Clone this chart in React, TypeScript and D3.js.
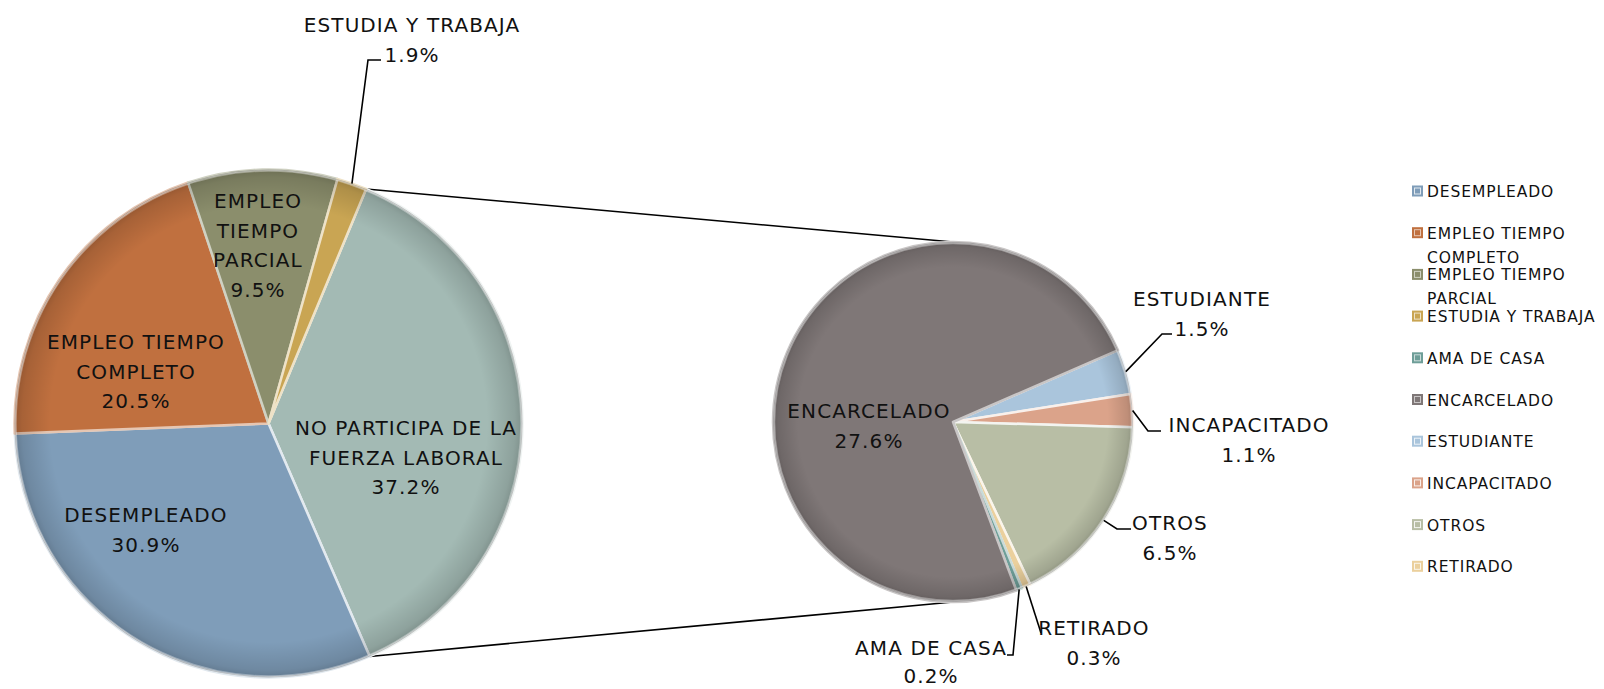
import React from "react";
import * as d3 from "d3";

// ---------- data ----------
const mainCategories = [
  "NO PARTICIPA DE LA FUERZA LABORAL",
  "DESEMPLEADO",
  "EMPLEO TIEMPO COMPLETO",
  "EMPLEO TIEMPO PARCIAL",
  "ESTUDIA Y TRABAJA",
];
const mainValues = [37.2, 30.9, 20.5, 9.5, 1.9];

const subCategories = [
  "ESTUDIANTE",
  "INCAPACITADO",
  "OTROS",
  "RETIRADO",
  "AMA DE CASA",
  "ENCARCELADO",
];
const subValues = [1.5, 1.1, 6.5, 0.3, 0.2, 27.6];

const legendCategories = [
  "DESEMPLEADO",
  "EMPLEO TIEMPO COMPLETO",
  "EMPLEO TIEMPO PARCIAL",
  "ESTUDIA Y TRABAJA",
  "AMA DE CASA",
  "ENCARCELADO",
  "ESTUDIANTE",
  "INCAPACITADO",
  "OTROS",
  "RETIRADO",
];

const colors: Record<string, string> = {
  "NO PARTICIPA DE LA FUERZA LABORAL": "#a3bab4",
  DESEMPLEADO: "#7f9db9",
  "EMPLEO TIEMPO COMPLETO": "#c0703f",
  "EMPLEO TIEMPO PARCIAL": "#8b8e6c",
  "ESTUDIA Y TRABAJA": "#c9a553",
  ENCARCELADO: "#7f7777",
  ESTUDIANTE: "#aac5dc",
  INCAPACITADO: "#dba38a",
  OTROS: "#b8bea5",
  RETIRADO: "#ebd09d",
  "AMA DE CASA": "#6e9e98",
};

type Lay = { lines: string[]; x: number; y: number; lh?: number; leader?: [number, number][] };

// label text lines (name wrapping) and layout
const mainLabelLayout: Record<string, Lay> = {
  "NO PARTICIPA DE LA FUERZA LABORAL": { lines: ["NO PARTICIPA DE LA", "FUERZA LABORAL"], x: 406, y: 435 },
  DESEMPLEADO: { lines: ["DESEMPLEADO"], x: 146, y: 522 },
  "EMPLEO TIEMPO COMPLETO": { lines: ["EMPLEO TIEMPO", "COMPLETO"], x: 136, y: 349 },
  "EMPLEO TIEMPO PARCIAL": { lines: ["EMPLEO", "TIEMPO", "PARCIAL"], x: 258, y: 208 },
  "ESTUDIA Y TRABAJA": { lines: ["ESTUDIA Y TRABAJA"], x: 412, y: 32, leader: [[381, 60], [368, 60]] },
};
const subLabelLayout: Record<string, Lay> = {
  ENCARCELADO: { lines: ["ENCARCELADO"], x: 869, y: 418 },
  ESTUDIANTE: { lines: ["ESTUDIANTE"], x: 1202, y: 306, leader: [[1172, 334], [1162, 334]] },
  INCAPACITADO: { lines: ["INCAPACITADO"], x: 1249, y: 432, leader: [[1161, 431], [1148, 431]] },
  OTROS: { lines: ["OTROS"], x: 1170, y: 530, leader: [[1131, 529], [1117, 529]] },
  RETIRADO: { lines: ["RETIRADO"], x: 1094, y: 635, leader: [[1041, 633]] },
  "AMA DE CASA": { lines: ["AMA DE CASA"], x: 931, y: 655, lh: 28, leader: [[1007, 655], [1013, 655]] },
};

const W = 1604;
const H = 689;
const FONT = "'DejaVu Sans', sans-serif";

const mainC = { x: 268.5, y: 423.5, r: 254 };
const subC = { x: 953, y: 422, r: 180 };
const deg = Math.PI / 180;

export default function App() {
  const mainPie = d3
    .pie<number>()
    .sort(null)
    .startAngle(22.6 * deg)
    .endAngle(22.6 * deg + 2 * Math.PI)(mainValues);
  const subPie = d3
    .pie<number>()
    .sort(null)
    .startAngle(66.5 * deg)
    .endAngle(66.5 * deg + 2 * Math.PI)(subValues);

  const mainArc = d3.arc<d3.PieArcDatum<number>>().innerRadius(0).outerRadius(mainC.r);
  const subArc = d3.arc<d3.PieArcDatum<number>>().innerRadius(0).outerRadius(subC.r);

  const pt = (c: { x: number; y: number }, r: number, a: number): [number, number] => [
    c.x + r * Math.sin(a),
    c.y - r * Math.cos(a),
  ];

  const other = mainPie[0];
  const conTop = pt(mainC, mainC.r, other.startAngle);
  const conBot = pt(mainC, mainC.r, other.endAngle);

  const line = d3.line();

  const renderLabel = (
    key: string,
    value: number,
    lay: Lay,
    c: { x: number; y: number; r: number },
    d: d3.PieArcDatum<number>
  ) => {
    const all = [...lay.lines, value.toFixed(1) + "%"];
    const mid = (d.startAngle + d.endAngle) / 2;
    const lh = lay.lh ?? 29.5;
    return (
      <g key={"lab-" + key}>
        {lay.leader && (
          <path
            d={line([...lay.leader, pt(c, c.r, mid)]) || ""}
            fill="none"
            stroke="#000"
            strokeWidth={1.6}
          />
        )}
        <text
          textAnchor="middle"
          fontFamily={FONT}
          fontSize={20}
          letterSpacing={1.1}
          fill="#111"
        >
          {all.map((t, i) => (
            <tspan key={i} x={lay.x} y={lay.y + i * lh}>
              {t}
            </tspan>
          ))}
        </text>
      </g>
    );
  };

  const sliceStroke = (col: string) => {
    const c = d3.hsl(col);
    c.l = Math.min(0.95, c.l + 0.3);
    return c.formatHex();
  };

  const legendLines = (name: string): string[] => {
    if (name === "EMPLEO TIEMPO COMPLETO") return ["EMPLEO TIEMPO", "COMPLETO"];
    if (name === "EMPLEO TIEMPO PARCIAL") return ["EMPLEO TIEMPO", "PARCIAL"];
    return [name];
  };

  return (
    <svg width={W} height={H} style={{ display: "block", position: "absolute", left: 0, top: 0 }}>
      <defs>
        <radialGradient id="rim">
          <stop offset="0.86" stopColor="#000" stopOpacity={0} />
          <stop offset="0.97" stopColor="#000" stopOpacity={0.13} />
          <stop offset="1" stopColor="#000" stopOpacity={0.22} />
        </radialGradient>
      </defs>
      <rect width={W} height={H} fill="#fff" />

      {/* connector lines */}
      <path d={line([conTop, [subC.x, subC.y - subC.r]]) || ""} stroke="#000" strokeWidth={1.6} fill="none" />
      <path d={line([conBot, [subC.x, subC.y + subC.r]]) || ""} stroke="#000" strokeWidth={1.6} fill="none" />

      {/* main pie */}
      <g transform={`translate(${mainC.x},${mainC.y})`}>
        {mainPie.map((d, i) => (
          <path
            key={i}
            d={mainArc(d) || ""}
            fill={colors[mainCategories[i]]}
            stroke={sliceStroke(colors[mainCategories[i]])}
            strokeWidth={2.5}
            strokeLinejoin="round"
          />
        ))}
        <circle r={mainC.r} fill="url(#rim)" />
        <circle r={mainC.r - 1.5} fill="none" stroke="#fff" strokeOpacity={0.35} strokeWidth={1.5} />
      </g>

      {/* secondary pie */}
      <g transform={`translate(${subC.x},${subC.y})`}>
        {subPie.map((d, i) => (
          <path
            key={i}
            d={subArc(d) || ""}
            fill={colors[subCategories[i]]}
            stroke={sliceStroke(colors[subCategories[i]])}
            strokeWidth={2.5}
            strokeLinejoin="round"
          />
        ))}
        <circle r={subC.r} fill="url(#rim)" />
        <circle r={subC.r - 1.5} fill="none" stroke="#fff" strokeOpacity={0.35} strokeWidth={1.5} />
      </g>

      {/* labels */}
      {mainPie.map((d, i) =>
        renderLabel(mainCategories[i], mainValues[i], mainLabelLayout[mainCategories[i]], mainC, d)
      )}
      {subPie.map((d, i) =>
        renderLabel(subCategories[i], subValues[i], subLabelLayout[subCategories[i]], subC, d)
      )}

      {/* legend */}
      <g>
        {legendCategories.map((name, i) => {
          const y = 197 + i * 41.7;
          const lines = legendLines(name);
          const col = colors[name];
          return (
            <g key={name}>
              <rect x={1412} y={y - 11.5} width={11} height={11} fill={col} />
              <rect
                x={1414.5}
                y={y - 9}
                width={6}
                height={6}
                fill="none"
                stroke={sliceStroke(col)}
                strokeWidth={1}
              />
              <text fontFamily={FONT} fontSize={15.5} letterSpacing={0.9} fill="#111">
                {lines.map((t, j) => (
                  <tspan key={j} x={1427} y={y + j * 24}>
                    {t}
                  </tspan>
                ))}
              </text>
            </g>
          );
        })}
      </g>
    </svg>
  );
}
